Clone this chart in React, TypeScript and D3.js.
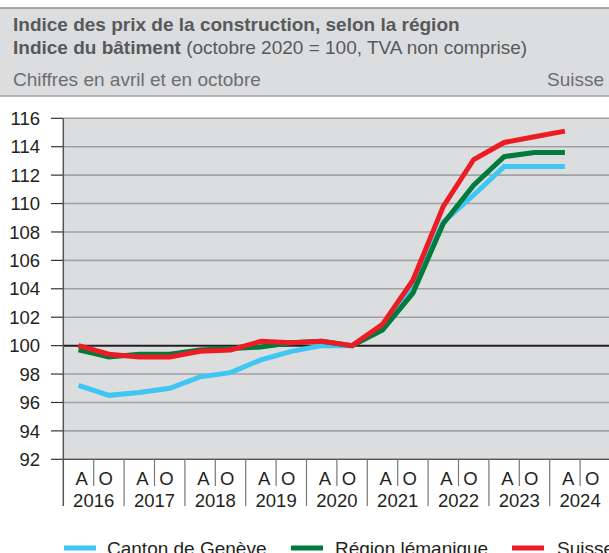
import React from "react";
import * as d3 from "d3";

const years = ["2016", "2017", "2018", "2019", "2020", "2021", "2022", "2023", "2024"];
const halves = ["A", "O"];
const categories = years.flatMap((y) => halves.map((h) => `${y}-${h}`));

const geneve = [97.2, 96.5, 96.7, 97.0, 97.8, 98.1, 99.0, 99.6, 100.0, 100.0, 101.3, 104.2, 108.7, 110.6, 112.6, 112.6, 112.6];
const lemanique = [99.7, 99.2, 99.4, 99.4, 99.7, 99.8, 99.9, 100.2, 100.3, 100.0, 101.1, 103.7, 108.6, 111.3, 113.3, 113.6, 113.6];
const suisse = [100.0, 99.4, 99.2, 99.2, 99.6, 99.7, 100.3, 100.2, 100.3, 100.0, 101.5, 104.6, 109.8, 113.1, 114.3, 114.7, 115.1];

const yTicks = [92, 94, 96, 98, 100, 102, 104, 106, 108, 110, 112, 114, 116];

const seriesNames = ["Canton de Genève", "Région lémanique", "Suisse"];
const seriesData = [geneve, lemanique, suisse];
const seriesColors = ["#3fc6f3", "#007a3d", "#ec1c24"];

const FONT = "'Liberation Sans', Arial, Helvetica, sans-serif";

export default function App() {
  const W = 609;
  const H = 553;
  const left = 63.3;
  const top = 118.3;
  const bottom = 459.3;
  const x = d3.scaleBand<string>().domain(categories).range([left, left + 18 * 30.4]);
  const y = d3.scaleLinear().domain([92, 116]).range([bottom, top]);
  const bw = x.bandwidth();

  const line = d3
    .line<number>()
    .x((_, i) => (x(categories[i]) as number) + bw / 2)
    .y((d) => y(d));

  const xRight = left + 18 * 30.4;

  return (
    <div style={{ position: "absolute", left: 0, top: 0 }}>
      <svg width={W} height={H} style={{ display: "block", fontFamily: FONT }}>
        <rect x={0} y={0} width={W} height={H} fill="#ffffff" />
        {/* header band */}
        <rect x={0} y={8} width={W} height={88} fill="#dcdddf" />
        <line x1={0} x2={W} y1={8} y2={8} stroke="#8c8c8c" strokeWidth={1.5} />
        <line x1={0} x2={W} y1={96} y2={96} stroke="#a0a0a0" strokeWidth={1.5} />
        <text x={13} y={31} fontSize={19} fontWeight="bold" fill="#58595b">
          Indice des prix de la construction, selon la région
        </text>
        <text x={13} y={54} fontSize={19} fill="#58595b">
          <tspan fontWeight="bold">Indice du bâtiment</tspan>
          <tspan> (octobre 2020 = 100, TVA non comprise)</tspan>
        </text>
        <text x={13} y={86} fontSize={19} fill="#6d6e71">
          Chiffres en avril et en octobre
        </text>
        <text x={604} y={86} fontSize={19} fill="#6d6e71" textAnchor="end">
          Suisse
        </text>

        {/* plot background */}
        <rect x={left} y={top} width={xRight - left} height={bottom - top} fill="#dcdddf" />
        {yTicks.map((t) => (
          <line
            key={`g${t}`}
            x1={left}
            x2={xRight}
            y1={y(t)}
            y2={y(t)}
            stroke={t === 100 ? "#231f20" : "#a0a1a4"}
            strokeWidth={t === 100 ? 2 : 1.6}
          />
        ))}
        {/* y axis */}
        {yTicks.map((t) => (
          <g key={`t${t}`}>
            <line x1={51} x2={left} y1={y(t)} y2={y(t)} stroke="#333" strokeWidth={1.2} />
            <text x={40} y={y(t)} dy="0.36em" fontSize={18.5} fill="#231f20" textAnchor="end">
              {t}
            </text>
          </g>
        ))}
        <line x1={left} x2={left} y1={top} y2={506} stroke="#555" strokeWidth={1.5} />
        <line x1={left} x2={xRight} y1={bottom} y2={bottom} stroke="#555" strokeWidth={1.2} />

        {/* x axis */}
        {years.map((yr, i) => {
          const x0 = x(`${yr}-A`) as number;
          const xm = x(`${yr}-O`) as number;
          return (
            <g key={yr}>
              {i > 0 && <line x1={x0} x2={x0} y1={bottom} y2={506} stroke="#777" strokeWidth={1.2} />}
              <line x1={xm} x2={xm} y1={bottom} y2={486} stroke="#777" strokeWidth={1.2} />
              <text x={xm - 12} y={485} fontSize={18.5} fill="#231f20" textAnchor="middle">
                A
              </text>
              <text x={xm + 12} y={485} fontSize={18.5} fill="#231f20" textAnchor="middle">
                O
              </text>
              <text x={x0 + bw} y={507} fontSize={18.5} fill="#231f20" textAnchor="middle">
                {yr}
              </text>
            </g>
          );
        })}

        {/* series */}
        {seriesData.map((s, i) => (
          <path
            key={seriesNames[i]}
            d={line(s) || ""}
            fill="none"
            stroke={seriesColors[i]}
            strokeWidth={5}
            strokeLinejoin="miter"
          />
        ))}

        {/* legend */}
        {seriesNames.map((n, i) => {
          const lx = [64, 291, 512][i];
          const tx = [107, 335, 557][i];
          return (
            <g key={`l${n}`}>
              <line x1={lx} x2={lx + 32} y1={548} y2={548} stroke={seriesColors[i]} strokeWidth={5} />
              <text x={tx} y={555} fontSize={19} fill="#231f20">
                {n}
              </text>
            </g>
          );
        })}
      </svg>
    </div>
  );
}
